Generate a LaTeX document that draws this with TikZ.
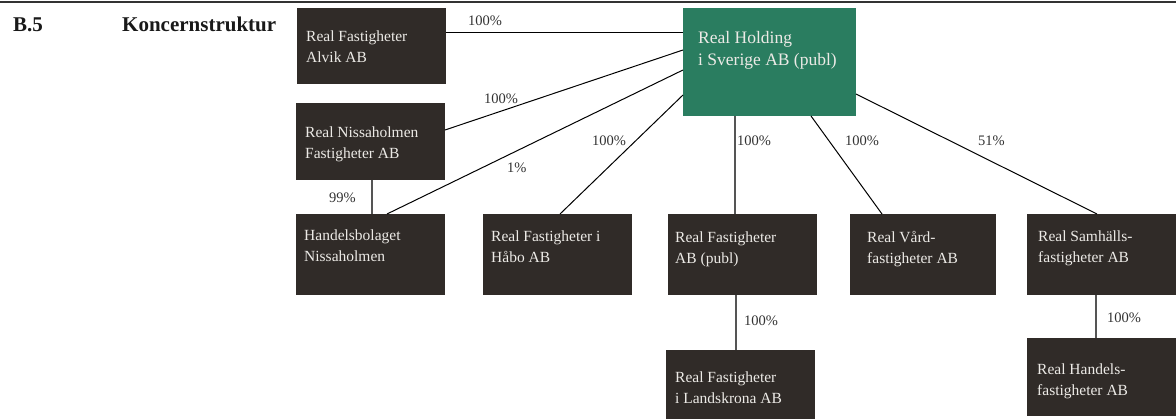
\documentclass[tikz,border=0pt]{standalone}
\usepackage{fontspec}
\setmainfont{Liberation Serif}
\usetikzlibrary{calc,fit}
\definecolor{boxdark}{HTML}{302B28}
\definecolor{boxgreen}{HTML}{2A7D60}
\definecolor{boxtext}{HTML}{ECEAE6}
\definecolor{lbl}{HTML}{333333}
\definecolor{vline}{HTML}{555555}
\tikzset{
  box/.style={fill=boxdark, draw=none, inner sep=0pt, outer sep=0pt},
  hbox/.style={fill=boxgreen, draw=none, inner sep=0pt, outer sep=0pt},
  btxt/.style={anchor=base west, inner sep=0pt, text=boxtext},
  lab/.style={anchor=base west, inner sep=0pt, text=lbl, font=\fontsize{14.5}{17}\selectfont},
  ln/.style={draw=black, line width=1pt},
  vln/.style={draw=vline, line width=1.4pt},
}
\newcommand{\btext}[1]{\parbox[t]{145pt}{\fontsize{15.5}{21}\selectfont\raggedright #1}}
\begin{document}
\begin{tikzpicture}[x=1pt,y=-1pt]
\useasboundingbox (0,0) rectangle (1176,419);
\fill[fill=lbl] (0,0.8) rectangle (1176,3.2);
% heading
\node[anchor=base west, inner sep=0pt, font=\fontsize{21}{25}\selectfont\bfseries, text=black!90] (num) at (13,32) {B.5};
\node[anchor=base west, inner sep=0pt, font=\fontsize{21}{25}\selectfont\bfseries, text=black!90] (title) at (122,32) {Koncernstruktur};
% boxes
\node[hbox, fit={(683,8) (856,116)}] (hold) {};
\node[box, fit={(297,8) (446,84)}] (alvik) {};
\node[box, fit={(296,103) (445,180)}] (nissa) {};
\node[box, fit={(296,214) (445,295)}] (handelsb) {};
\node[box, fit={(483,214) (632,295)}] (habo) {};
\node[box, fit={(668,214) (817,295)}] (rfab) {};
\node[box, fit={(850,214) (996,295)}] (vard) {};
\node[box, fit={(1027,214) (1176,295)}] (samh) {};
\node[box, fit={(666,350) (815,419)}] (landsk) {};
\node[box, fit={(1027,338) (1176,416)}] (handels) {};
% box texts
\node[btxt] (holdT) at (698,44) {\parbox[t]{155pt}{\fontsize{17.5}{21.5}\selectfont\raggedright Real Holding\\i Sverige AB (publ)}};
\node[btxt] (alvikT) at (306,42) {\btext{Real Fastigheter\\Alvik AB}};
\node[btxt] (nissaT) at (305,138) {\btext{Real Nissaholmen\\Fastigheter AB}};
\node[btxt] (handelsbT) at (304,241) {\btext{Handelsbolaget\\Nissaholmen}};
\node[btxt] (haboT) at (491,242) {\btext{Real Fastigheter i\\Håbo AB}};
\node[btxt] (rfabT) at (675,243) {\btext{Real Fastigheter\\AB (publ)}};
\node[btxt] (vardT) at (867,243) {\btext{Real Vård-\\fastigheter AB}};
\node[btxt] (samhT) at (1038,242) {\btext{Real Samhälls-\\fastigheter AB}};
\node[btxt] (landskT) at (675,383) {\btext{Real Fastigheter\\i Landskrona AB}};
\node[btxt] (handelsT) at (1037,375) {\btext{Real Handels-\\fastigheter AB}};
% connectors
\draw[ln] ($(alvik.north east)+(0,25)$) -- ($(hold.north west)+(0,25)$);
\draw[ln] ($(hold.north west)+(0,42)$) -- ($(nissa.north east)+(0,27)$);
\draw[ln] ($(hold.north west)+(0,62)$) -- ($(handelsb.north west)+(91,0)$);
\draw[ln] ($(hold.north west)+(0,87)$) -- ($(habo.north west)+(77,0)$);
\draw[vln] ($(hold.south west)+(52,0)$) -- ($(rfab.north west)+(67,0)$);
\draw[ln] ($(hold.south west)+(128,0)$) -- ($(vard.north west)+(32,0)$);
\draw[ln] ($(hold.north east)+(0,86)$) -- ($(samh.north west)+(70,0)$);
\draw[vln] ($(nissa.south west)+(76,0)$) -- ($(handelsb.north west)+(76,0)$);
\draw[vln] ($(rfab.south west)+(68,0)$) -- ($(landsk.north west)+(70,0)$);
\draw[vln] ($(samh.south west)+(69,0)$) -- ($(handels.north west)+(69,0)$);
% labels
\node[lab] (l1) at (468,26) {100\%};
\node[lab] (l2) at (484,104) {100\%};
\node[lab] (l3) at (507,173) {1\%};
\node[lab] (l4) at (592,146) {100\%};
\node[lab] (l5) at (737,146) {100\%};
\node[lab] (l6) at (845,146) {100\%};
\node[lab] (l7) at (978,146) {51\%};
\node[lab] (l8) at (329,203) {99\%};
\node[lab] (l9) at (744,326) {100\%};
\node[lab] (l10) at (1107,323) {100\%};
\end{tikzpicture}
\end{document}
